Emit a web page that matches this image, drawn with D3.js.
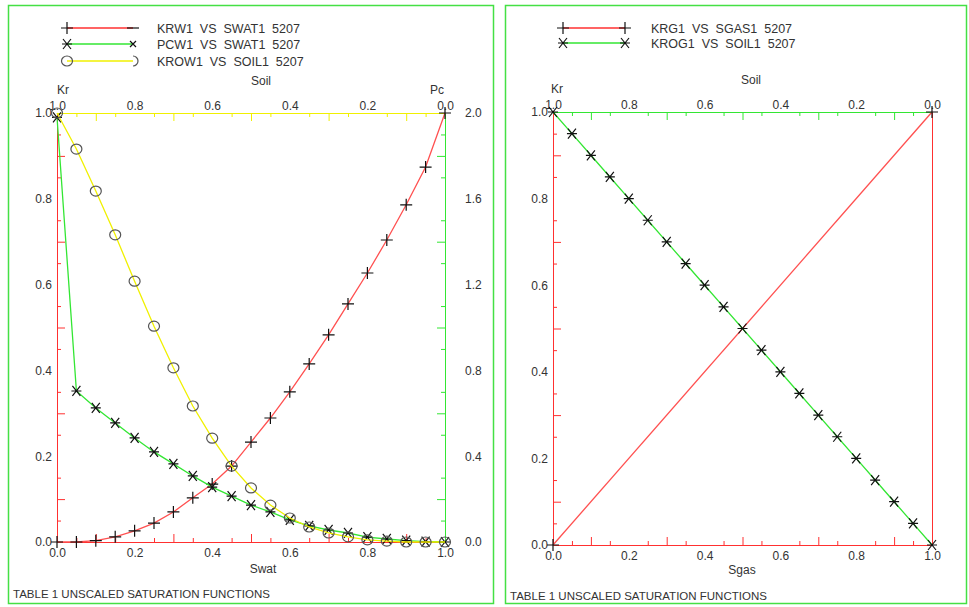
<!DOCTYPE html>
<html>
<head>
<meta charset="utf-8">
<script src="https://cdn.jsdelivr.net/npm/d3@7"></script>
<style>
  body { margin: 0; background: #fff; }
  svg { display: block; }
  text { font-family: "Liberation Sans", Arial, sans-serif; fill: #333; white-space: pre; }
</style>
</head>
<body>
<svg id="chart" width="969" height="607"></svg>
<script>
// Left panel data (water / oil)
var swat = [0.0, 0.05, 0.1, 0.15, 0.2, 0.25, 0.3, 0.35, 0.4, 0.45, 0.5, 0.55, 0.6, 0.65, 0.7, 0.75, 0.8, 0.85, 0.9, 0.95, 1.0];
var krw = [0, 0, 0.003, 0.012, 0.026, 0.044, 0.07, 0.103, 0.135, 0.177, 0.233, 0.289, 0.35, 0.415, 0.483, 0.555, 0.627, 0.704, 0.786, 0.874, 1.0];
var pcw = [1.98, 0.704, 0.625, 0.555, 0.485, 0.42, 0.364, 0.308, 0.256, 0.214, 0.172, 0.14, 0.103, 0.075, 0.056, 0.042, 0.023, 0.014, 0.006, 0.002, 0];
var soil = [1.0, 0.95, 0.9, 0.85, 0.8, 0.75, 0.7, 0.65, 0.6, 0.55, 0.5, 0.45, 0.4, 0.35, 0.3, 0.25, 0.2, 0.15, 0.1, 0.05, 0.0];
var krow = [1.0, 0.916, 0.818, 0.716, 0.608, 0.503, 0.406, 0.317, 0.242, 0.177, 0.126, 0.086, 0.056, 0.035, 0.021, 0.012, 0.005, 0.002, 0, 0, 0];

// Right panel data (gas / oil)
var sgas = [0.0, 1.0];
var krg = [0.0, 1.0];
var soilG = [1.0, 0.95, 0.9, 0.85, 0.8, 0.75, 0.7, 0.65, 0.6, 0.55, 0.5, 0.45, 0.4, 0.35, 0.3, 0.25, 0.2, 0.15, 0.1, 0.05, 0.0];
var krog = [1.0, 0.95, 0.9, 0.85, 0.8, 0.75, 0.7, 0.65, 0.6, 0.55, 0.5, 0.45, 0.4, 0.35, 0.3, 0.25, 0.2, 0.15, 0.1, 0.05, 0.0];

// tick sets
var minorTicks = [0.05, 0.15, 0.25, 0.35, 0.45, 0.55, 0.65, 0.75, 0.85, 0.95];
var majorTicks = [0.1, 0.3, 0.5, 0.7, 0.9];
var labelTicks = [0.0, 0.2, 0.4, 0.6, 0.8, 1.0];
var pcMinor = [0.1, 0.3, 0.5, 0.7, 0.9, 1.1, 1.3, 1.5, 1.7, 1.9];
var pcMajor = [0.2, 0.6, 1.0, 1.4, 1.8];
var pcLabels = [0.0, 0.4, 0.8, 1.2, 1.6, 2.0];

var RED = "#ff3030", GREEN = "#33e633", YELLOW = "#f0f000", FRAME = "#44e044";

var svg = d3.select("#chart");

// axis helper: minor + major ticks pointing inside, then labels
function addAxis(g, axisFn, scale, minor, major, labels, color, pad) {
  var a = g.append("g");
  a.call(axisFn(scale).tickValues(minor).tickSize(-4).tickSizeOuter(0).tickFormat(""));
  var b = g.append("g");
  b.call(axisFn(scale).tickValues(major).tickSize(-8).tickSizeOuter(0).tickFormat(""));
  a.select(".domain").attr("stroke", color);
  b.select(".domain").remove();
  a.selectAll(".tick line").attr("stroke", color);
  b.selectAll(".tick line").attr("stroke", color);
  if (labels) {
    var c = g.append("g");
    c.call(axisFn(scale).tickValues(labels).tickSize(0).tickPadding(pad).tickFormat(d3.format(".1f")));
    c.select(".domain").remove();
    c.selectAll("text").attr("fill", "#444").style("font-size", "12px")
      .style("font-family", "'Liberation Sans', Arial, sans-serif");
  }
  return a;
}

// markers
function marker(g, type, x, y) {
  var m = g.append("path").attr("transform", "translate(" + x + "," + y + ")")
    .attr("fill", "none").attr("stroke", "#111").attr("stroke-width", 1.2);
  if (type == "plus") m.attr("d", "M-6,0H6M0,-6V6");
  if (type == "dash") m.attr("d", "M-6,0H6");
  if (type == "star") m.attr("d", "M-5,0H5M-4,-5L4,5M-4,5L4,-5");
  if (type == "cross") m.attr("d", "M-3,-3L3,3M-3,3L3,-3");
  if (type == "circle") { m.remove();
    g.append("ellipse").attr("cx", x).attr("cy", y).attr("rx", 5.5).attr("ry", 5)
      .attr("fill", "none").attr("stroke", "#555").attr("stroke-width", 1.2); }
  if (type == "half") m.attr("d", "M0,-5A5,5 0 0 1 0,5").attr("stroke", "#555");
}

function series(g, xs, ys, xScale, yScale, color, type, showMarks) {
  var pts = xs.map(function (d, i) { return [xScale(d), yScale(ys[i])]; });
  g.append("path").datum(pts)
    .attr("fill", "none").attr("stroke", color).attr("stroke-width", 1.3)
    .attr("d", d3.line());
  if (showMarks) pts.forEach(function (p) { marker(g, type, p[0], p[1]); });
}

function legend(g, x1, x2, y, tx, color, m1, m2, label) {
  g.append("line").attr("x1", x1).attr("x2", x2).attr("y1", y).attr("y2", y)
    .attr("stroke", color).attr("stroke-width", 1.3);
  marker(g, m1, x1, y);
  marker(g, m2, x2, y);
  g.append("text").attr("x", tx).attr("y", y + 5).style("font-size", "12.5px").text(label);
}

function label(g, x, y, t, anchor, size) {
  g.append("text").attr("x", x).attr("y", y).attr("text-anchor", anchor || "middle")
    .style("font-size", (size || 12) + "px").text(t);
}

// ---------- left panel ----------
var L = svg.append("g");
L.append("rect").attr("x", 8.5).attr("y", 5.5).attr("width", 485).attr("height", 598)
  .attr("fill", "none").attr("stroke", FRAME).attr("stroke-width", 1.5);

var x1 = d3.scaleLinear().domain([0, 1]).range([57, 445]);
var so1 = d3.scaleLinear().domain([1, 0]).range([57, 445]);
var y1 = d3.scaleLinear().domain([0, 1]).range([542, 113]);
var pc1 = d3.scaleLinear().domain([0, 2]).range([542, 113]);

addAxis(L.append("g").attr("transform", "translate(0,113)"), d3.axisTop, so1,
  minorTicks, majorTicks, labelTicks, YELLOW, 3);
addAxis(L.append("g").attr("transform", "translate(445,0)"), d3.axisRight, pc1,
  pcMinor, pcMajor, pcLabels, GREEN, 20);
addAxis(L.append("g").attr("transform", "translate(57,0)"), d3.axisLeft, y1,
  minorTicks, majorTicks, labelTicks, RED, 5);
addAxis(L.append("g").attr("transform", "translate(0,542)"), d3.axisBottom, x1,
  minorTicks, majorTicks, labelTicks, RED, 6);

series(L, swat, krw, x1, y1, "#ff5050", "plus", true);
series(L, swat, pcw, x1, pc1, GREEN, "star", true);
series(L, soil, krow, so1, y1, YELLOW, "circle", true);

legend(L, 67, 133, 28, 157, RED, "plus", "dash", "KRW1  VS  SWAT1  5207");
legend(L, 67, 133, 44, 157, GREEN, "star", "cross", "PCW1  VS  SWAT1  5207");
legend(L, 67, 133, 61, 157, YELLOW, "circle", "half", "KROW1  VS  SOIL1  5207");

label(L, 63, 94, "Kr");
label(L, 261, 85, "Soil");
label(L, 437, 94, "Pc");
label(L, 263, 573, "Swat");
label(L, 13, 598, "TABLE 1 UNSCALED SATURATION FUNCTIONS", "start", 11.5);

// ---------- right panel ----------
var R = svg.append("g");
R.append("rect").attr("x", 505.5).attr("y", 5.5).attr("width", 461).attr("height", 598)
  .attr("fill", "none").attr("stroke", FRAME).attr("stroke-width", 1.5);

var x2 = d3.scaleLinear().domain([0, 1]).range([553, 932]);
var so2 = d3.scaleLinear().domain([1, 0]).range([553, 932]);
var y2 = d3.scaleLinear().domain([0, 1]).range([545, 112]);

addAxis(R.append("g").attr("transform", "translate(0,112)"), d3.axisTop, so2,
  minorTicks, majorTicks, labelTicks, GREEN, 3);
addAxis(R.append("g").attr("transform", "translate(553,0)"), d3.axisLeft, y2,
  minorTicks, majorTicks, labelTicks, RED, 5);
addAxis(R.append("g").attr("transform", "translate(0,545)"), d3.axisBottom, x2,
  minorTicks, majorTicks, labelTicks, RED, 6);
// right frame axis, no ticks
R.append("g").attr("transform", "translate(932,0)")
  .call(d3.axisRight(y2).tickValues([]).tickSizeOuter(0))
  .select(".domain").attr("stroke", RED);

series(R, sgas, krg, x2, y2, "#ff5050", "plus", true);
series(R, soilG, krog, so2, y2, GREEN, "star", true);

legend(R, 563, 625, 28, 651, RED, "plus", "plus", "KRG1  VS  SGAS1  5207");
legend(R, 563, 625, 43, 651, GREEN, "star", "star", "KROG1  VS  SOIL1  5207");

label(R, 557, 93, "Kr");
label(R, 751, 84, "Soil");
label(R, 742, 574, "Sgas");
label(R, 510, 600, "TABLE 1 UNSCALED SATURATION FUNCTIONS", "start", 11.5);
</script>
</body>
</html>
